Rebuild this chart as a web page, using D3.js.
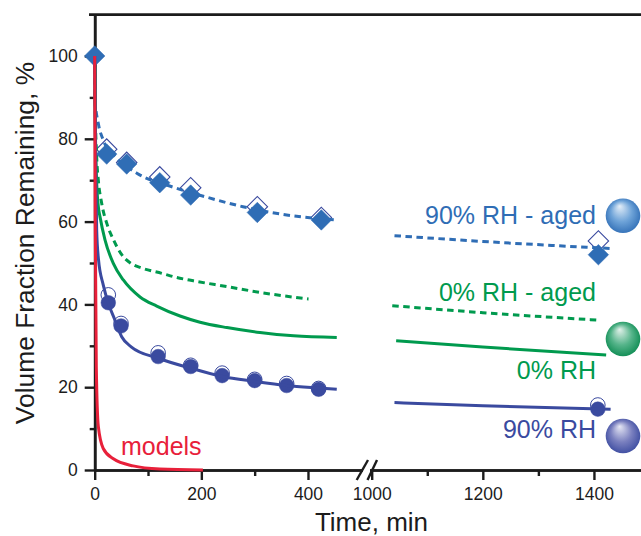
<!DOCTYPE html>
<html>
<head>
<meta charset="utf-8">
<script src="https://d3js.org/d3.v7.min.js"></script>
<style>
body { margin: 0; background: white; }
svg { display: block; }
text { font-family: "Liberation Sans", Arial, sans-serif; }
</style>
</head>
<body>
<svg id="chart" width="641" height="536"></svg>
<script>
// x axis is broken, the scale has a short jump between 500 and 1000
const xBreakDomain = [0, 500, 1000, 1500];
const xMajorTicks = [0, 200, 400, 1000, 1200, 1400];
const xMinorTicks = [100, 300, 1100, 1300];
const yMajorTicks = [0, 20, 40, 60, 80, 100];
const yMinorTicks = [10, 30, 50, 70, 90];

// lines: [time, percent], one array each side of the break
const rh90Left = [[0,100],[1,85],[2,72],[3.7,58],[7,51],[16,44.7],[25.5,40.3],[38,36.2],[50.6,32.2],[69,29.7],[119,27],[180,24.6],[239,22.6],[300,21.4],[360,20.4],[420,19.8],[454,19.5]];
const rh90Right = [[1041,16.3],[1200,15.5],[1430,14.7]];
const rh0Left = [[0,100],[1,85],[3,72],[6.8,63.6],[9.9,61.2],[19.3,55.6],[34.9,49.9],[53.7,45.9],[85,41.8],[116.3,39.6],[160,37.2],[197.5,35.7],[248,34.4],[310,33.2],[373,32.4],[454,32]];
const rh0Right = [[1044,31.2],[1200,29.7],[1422,27.8]];
const rh0AgedLeft = [[0,100],[1,88],[3.7,75.7],[6.8,70],[13,64.5],[23.6,59.2],[33.8,56],[50.7,52],[69.4,49.8],[88,48.8],[125.7,47.5],[153.8,46.5],[185,45.7],[248,44.3],[310,42.9],[401,41.3]];
const rh0AgedRight = [[1037,39.7],[1200,38],[1408,36.2]];
const rh90AgedLeft = [[0,100],[0.6,89.4],[6.8,83.7],[16,79.7],[40,75.5],[79,71.7],[147.5,68.3],[210,65.9],[278,63.6],[360,61.6],[454,60.4]];
const rh90AgedRight = [[1041,56.6],[1200,55.2],[1430,53.5]];
const modelLine = [[0,100],[1,60],[3,25],[6.8,10.5],[16,5.2],[35,2.7],[72,1],[122,0.25],[203,0]];

// measured points
const diamondFilled = [[0,100],[22.5,76.3],[60,73.9],[122,69.4],[180,66.4],[305,62.2],[425,60.4],[1408,52]];
const diamondOpen = [[22.5,77.5],[60,74.3],[122,70.8],[180,68.2],[305,63.6],[425,61],[1408,55.3]];
const circleFilled = [[25.5,40.4],[49.4,34.8],[119,27.4],[180,25],[239,22.8],[300,21.6],[360,20.4],[420,19.5],[1407,14.7]];
const circleOpen = [[25.5,42.3],[49.4,35.4],[119,28.3],[180,25.3],[239,23.4],[300,21.9],[360,20.9],[420,19.7],[1407,15.7]];

const blue = "#2f6db5", green = "#009a4e", navy = "#3a4a9f", red = "#e8203a", ink = "#1c1c1c";

const svg = d3.select("#chart");

const x = d3.scaleLinear().domain(xBreakDomain).range([94.7, 361.3, 371.7, 649.5]);
const y = d3.scaleLinear().domain([0, 110]).range([470, 14.6]);

function styleAxis(g) {
    g.selectAll("path").attr("stroke", ink).attr("stroke-width", 2.6);
    g.selectAll("line").attr("stroke", ink).attr("stroke-width", 2.4);
    g.selectAll("text").attr("fill", ink);
}

// y axis
svg.append("g").attr("transform", "translate(" + x(0) + ",0)")
    .call(d3.axisLeft(y).tickValues(yMajorTicks).tickSize(10).tickSizeOuter(0).tickPadding(7))
    .call(styleAxis)
    .selectAll("text").style("font-size", "17.5px");
svg.append("g").attr("transform", "translate(" + x(0) + ",0)")
    .call(d3.axisLeft(y).tickValues(yMinorTicks).tickSize(5).tickSizeOuter(0).tickFormat(""))
    .call(styleAxis);

// x axis
svg.append("g").attr("transform", "translate(0," + y(0) + ")")
    .call(d3.axisBottom(x).tickValues(xMajorTicks).tickSize(10).tickSizeOuter(0).tickPadding(8).tickFormat(d3.format("d")))
    .call(styleAxis)
    .selectAll("text").style("font-size", "17.5px");
svg.append("g").attr("transform", "translate(0," + y(0) + ")")
    .call(d3.axisBottom(x).tickValues(xMinorTicks).tickSize(6).tickSizeOuter(0).tickFormat(""))
    .call(styleAxis);

// top border, sticks out a bit left of the y axis
svg.append("line")
    .attr("x1", 89).attr("x2", 641)
    .attr("y1", y(110)).attr("y2", y(110))
    .attr("stroke", ink).attr("stroke-width", 2.6);

// break marks
svg.append("rect").attr("x", 363).attr("y", 466).attr("width", 7).attr("height", 8).attr("fill", "white");
[[356.7, 368], [367.5, 377]].forEach(function (b) {
    svg.append("line")
        .attr("x1", b[0]).attr("y1", 480)
        .attr("x2", b[1]).attr("y2", 460)
        .attr("stroke", ink).attr("stroke-width", 2.4);
});

const lineGen = d3.line().x(d => x(d[0])).y(d => y(d[1])).curve(d3.curveMonotoneX);

function addLine(data, color, dash) {
    svg.append("path")
        .datum(data)
        .attr("d", lineGen)
        .attr("fill", "none")
        .attr("stroke", color)
        .attr("stroke-width", 3)
        .attr("stroke-dasharray", dash ? "6.5,4.5" : null);
}

const diamond = d3.symbol().type(d3.symbolSquare).size(210);

function addDiamonds(data, filled) {
    svg.append("g").selectAll("path")
        .data(data)
        .join("path")
        .attr("d", diamond)
        .attr("transform", d => "translate(" + x(d[0]) + "," + y(d[1]) + ") rotate(45)")
        .attr("fill", filled ? blue : "white")
        .attr("stroke", filled ? blue : navy)
        .attr("stroke-width", filled ? 0.5 : 1.1);
}

function addCircles(data, filled) {
    svg.append("g").selectAll("circle")
        .data(data)
        .join("circle")
        .attr("cx", d => x(d[0]))
        .attr("cy", d => y(d[1]))
        .attr("r", 7.3)
        .attr("fill", filled ? navy : "white")
        .attr("stroke", navy)
        .attr("stroke-width", filled ? 0.5 : 1);
}

addDiamonds(diamondOpen, false);
addCircles(circleOpen, false);

addLine(rh90AgedLeft, blue, true);
addLine(rh90AgedRight, blue, true);
addLine(rh0AgedLeft, green, true);
addLine(rh0AgedRight, green, true);
addLine(rh0Left, green, false);
addLine(rh0Right, green, false);

addDiamonds(diamondFilled, true);
addCircles(circleFilled, true);

addLine(rh90Left, navy, false);
addLine(rh90Right, navy, false);
addLine(modelLine, red, false);

// labels
function addLabel(str, px, py, color, anchor, size) {
    svg.append("text")
        .attr("x", px).attr("y", py)
        .attr("fill", color)
        .attr("text-anchor", anchor)
        .style("font-size", size + "px")
        .text(str);
}

addLabel("90% RH - aged", 596, 224, blue, "end", 25);
addLabel("0% RH - aged", 596, 301, green, "end", 25);
addLabel("0% RH", 596, 379, green, "end", 25);
addLabel("90% RH", 596, 438, navy, "end", 25);
addLabel("models", 121, 455, red, "start", 25);

addLabel("Time, min", 371.5, 530.5, ink, "middle", 26);
svg.append("text")
    .attr("transform", "translate(34,243) rotate(-90)")
    .attr("text-anchor", "middle")
    .attr("fill", ink)
    .style("font-size", "26.4px")
    .text("Volume Fraction Remaining, %");

// spheres
const spheres = [
    { id: "ballBlue", cy: 215.7, light: "#e4eef8", mid: "#6ea3d8", dark: blue },
    { id: "ballGreen", cy: 339, light: "#e2f1ea", mid: "#55b48a", dark: "#0b8a50" },
    { id: "ballNavy", cy: 436, light: "#e6e7f4", mid: "#7a80bf", dark: navy }
];
const defs = svg.append("defs");
spheres.forEach(function (s) {
    const grad = defs.append("radialGradient")
        .attr("id", s.id)
        .attr("cx", "50%").attr("cy", "50%").attr("r", "55%")
        .attr("fx", "40%").attr("fy", "22%");
    grad.append("stop").attr("offset", "0%").attr("stop-color", s.light);
    grad.append("stop").attr("offset", "55%").attr("stop-color", s.mid);
    grad.append("stop").attr("offset", "100%").attr("stop-color", s.dark);
    svg.append("circle")
        .attr("cx", 623).attr("cy", s.cy).attr("r", 17.3)
        .attr("fill", "url(#" + s.id + ")");
});
</script>
</body>
</html>
